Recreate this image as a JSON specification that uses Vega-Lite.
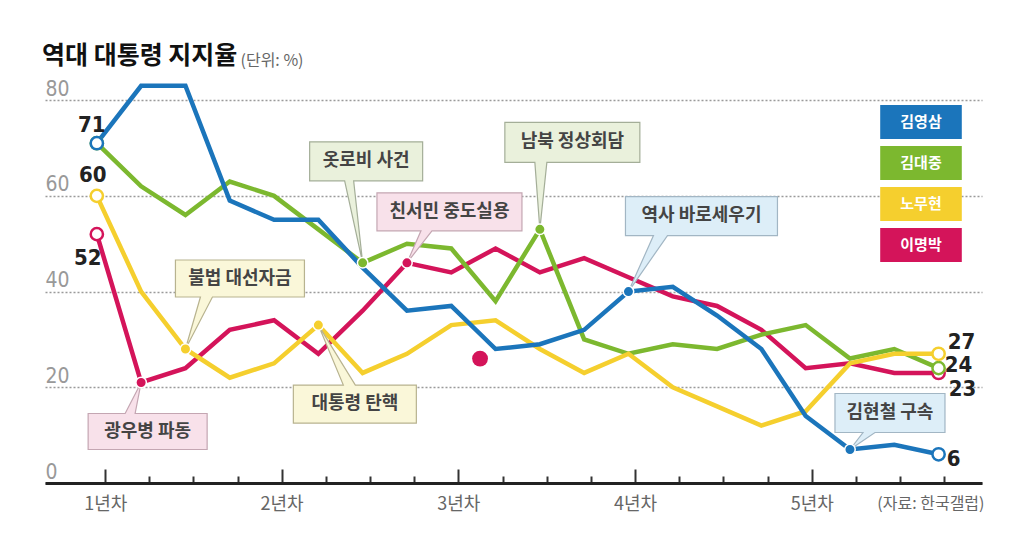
{
  "$schema": "https://vega.github.io/schema/vega-lite/v6.json",
  "width": 937,
  "height": 402,
  "autosize": {"type": "none"},
  "padding": {"left": 45, "top": 81, "right": 46, "bottom": 76},
  "background": "white",
  "config": {"view": {"stroke": null}, "font": "Noto Sans CJK KR"},
  "title": {
    "text": "역대 대통령 지지율",
    "anchor": "start",
    "frame": "group",
    "font": "Noto Sans CJK KR",
    "fontSize": 25,
    "fontWeight": "bold",
    "color": "#111",
    "dx": -3,
    "offset": -17
  },
  "datasets": {
    "approval": [
      {"president": "이명박", "q": 0, "v": 52}, {"president": "이명박", "q": 1, "v": 21},
      {"president": "이명박", "q": 2, "v": 24}, {"president": "이명박", "q": 3, "v": 32},
      {"president": "이명박", "q": 4, "v": 34}, {"president": "이명박", "q": 5, "v": 27},
      {"president": "이명박", "q": 6, "v": 36}, {"president": "이명박", "q": 7, "v": 46},
      {"president": "이명박", "q": 8, "v": 44}, {"president": "이명박", "q": 9, "v": 49},
      {"president": "이명박", "q": 10, "v": 44}, {"president": "이명박", "q": 11, "v": 47},
      {"president": "이명박", "q": 12, "v": 43}, {"president": "이명박", "q": 13, "v": 39},
      {"president": "이명박", "q": 14, "v": 37}, {"president": "이명박", "q": 15, "v": 32},
      {"president": "이명박", "q": 16, "v": 24}, {"president": "이명박", "q": 17, "v": 25},
      {"president": "이명박", "q": 18, "v": 23}, {"president": "이명박", "q": 19, "v": 23},
      {"president": "김대중", "q": 0, "v": 71}, {"president": "김대중", "q": 1, "v": 62},
      {"president": "김대중", "q": 2, "v": 56}, {"president": "김대중", "q": 3, "v": 63},
      {"president": "김대중", "q": 4, "v": 60}, {"president": "김대중", "q": 5, "v": 53},
      {"president": "김대중", "q": 6, "v": 46}, {"president": "김대중", "q": 7, "v": 50},
      {"president": "김대중", "q": 8, "v": 49}, {"president": "김대중", "q": 9, "v": 38},
      {"president": "김대중", "q": 10, "v": 53}, {"president": "김대중", "q": 11, "v": 30},
      {"president": "김대중", "q": 12, "v": 27}, {"president": "김대중", "q": 13, "v": 29},
      {"president": "김대중", "q": 14, "v": 28}, {"president": "김대중", "q": 15, "v": 31},
      {"president": "김대중", "q": 16, "v": 33}, {"president": "김대중", "q": 17, "v": 26},
      {"president": "김대중", "q": 18, "v": 28}, {"president": "김대중", "q": 19, "v": 24},
      {"president": "노무현", "q": 0, "v": 60}, {"president": "노무현", "q": 1, "v": 40},
      {"president": "노무현", "q": 2, "v": 28}, {"president": "노무현", "q": 3, "v": 22},
      {"president": "노무현", "q": 4, "v": 25}, {"president": "노무현", "q": 5, "v": 33},
      {"president": "노무현", "q": 6, "v": 23}, {"president": "노무현", "q": 7, "v": 27},
      {"president": "노무현", "q": 8, "v": 33}, {"president": "노무현", "q": 9, "v": 34},
      {"president": "노무현", "q": 10, "v": 28}, {"president": "노무현", "q": 11, "v": 23},
      {"president": "노무현", "q": 12, "v": 27}, {"president": "노무현", "q": 13, "v": 20},
      {"president": "노무현", "q": 14, "v": 16}, {"president": "노무현", "q": 15, "v": 12},
      {"president": "노무현", "q": 16, "v": 15}, {"president": "노무현", "q": 17, "v": 25},
      {"president": "노무현", "q": 18, "v": 27}, {"president": "노무현", "q": 19, "v": 27},
      {"president": "김영삼", "q": 0, "v": 71}, {"president": "김영삼", "q": 1, "v": 83},
      {"president": "김영삼", "q": 2, "v": 83}, {"president": "김영삼", "q": 3, "v": 59},
      {"president": "김영삼", "q": 4, "v": 55}, {"president": "김영삼", "q": 5, "v": 55},
      {"president": "김영삼", "q": 6, "v": 45}, {"president": "김영삼", "q": 7, "v": 36},
      {"president": "김영삼", "q": 8, "v": 37}, {"president": "김영삼", "q": 9, "v": 28},
      {"president": "김영삼", "q": 10, "v": 29}, {"president": "김영삼", "q": 11, "v": 32},
      {"president": "김영삼", "q": 12, "v": 40}, {"president": "김영삼", "q": 13, "v": 41},
      {"president": "김영삼", "q": 14, "v": 35}, {"president": "김영삼", "q": 15, "v": 28},
      {"president": "김영삼", "q": 16, "v": 14}, {"president": "김영삼", "q": 17, "v": 7},
      {"president": "김영삼", "q": 18, "v": 8}, {"president": "김영삼", "q": 19, "v": 6}
    ],
    "events": [
      {"event": "옷로비 사건", "president": "김대중", "q": 6, "v": 46},
      {"event": "친서민 중도실용", "president": "이명박", "q": 7, "v": 46},
      {"event": "남북 정상회담", "president": "김대중", "q": 10, "v": 53},
      {"event": "역사 바로세우기", "president": "김영삼", "q": 12, "v": 40},
      {"event": "불법 대선자금", "president": "노무현", "q": 2, "v": 28},
      {"event": "대통령 탄핵", "president": "노무현", "q": 5, "v": 33},
      {"event": "광우병 파동", "president": "이명박", "q": 1, "v": 21},
      {"event": "김현철 구속", "president": "김영삼", "q": 17, "v": 7}
    ],
    "extra": [
      {"president": "이명박", "q": 8.65, "v": 26}
    ]
  },
  "encoding": {
    "x": {
      "field": "q",
      "type": "quantitative",
      "scale": {"domain": [-1.17, 19.98], "nice": false, "zero": false},
      "axis": {
        "values": [0.19, 1.18, 2.18, 3.18, 4.17, 5.17, 6.17, 7.17, 8.16, 9.16, 10.16, 11.15, 12.15, 13.15, 14.14, 15.14, 16.14, 17.13, 18.13, 19.13],
        "labelExpr": "indexof([0.19, 4.17, 8.16, 12.15, 16.14], datum.value) >= 0 ? (indexof([0.19, 4.17, 8.16, 12.15, 16.14], datum.value) + 1) + '년차' : ''",
        "grid": false,
        "domainColor": "#222",
        "domainWidth": 3,
        "ticks": true,
        "tickColor": "#333",
        "tickWidth": 2,
        "tickSize": -14,
        "tickDash": {"condition": {"test": "indexof([0.19, 4.17, 8.16, 12.15, 16.14], datum.value) >= 0", "value": [14, 0]}, "value": [7, 20]},
        "labelPadding": 26,
        "labelBaseline": "top",
        "labelFont": "Noto Sans CJK KR",
        "labelFontSize": 18,
        "labelColor": "#666",
        "labelFlush": false,
        "labelOverlap": false,
        "labelBound": false,
        "title": "(자료: 한국갤럽)",
        "titleAnchor": "end",
        "titleAlign": "right",
        "titleX": 939,
        "titleY": 12,
        "titleBaseline": "top",
        "titleFont": "Noto Sans CJK KR",
        "titleFontSize": 16,
        "titleFontWeight": "normal",
        "titleColor": "#666"
      }
    },
    "y": {
      "field": "v",
      "type": "quantitative",
      "scale": {"domain": [0, 84], "nice": false},
      "axis": {
        "values": [0, 20, 40, 60, 80],
        "domain": false,
        "ticks": false,
        "grid": true,
        "gridColor": "#9a9a9a",
        "gridDash": [2, 2],
        "gridWidth": 1.5,
        "labelAlign": "left",
        "labelBaseline": "alphabetic",
        "labelPadding": 0,
        "labelOffset": -5,
        "labelFont": "Liberation Sans Narrow, DejaVu Sans Condensed, sans-serif",
        "labelFontSize": 21,
        "labelColor": "#999",
        "title": "(단위: %)",
        "titleAngle": 0,
        "titleX": 195,
        "titleY": -16,
        "titleAlign": "left",
        "titleBaseline": "alphabetic",
        "titleFont": "Noto Sans CJK KR",
        "titleFontSize": 16,
        "titleFontWeight": "normal",
        "titleColor": "#666"
      }
    }
  },
  "layer": [
    {
      "data": {"name": "approval"},
      "mark": {"type": "line", "strokeWidth": 4.5, "strokeJoin": "miter"},
      "encoding": {
        "color": {
          "field": "president",
          "type": "nominal",
          "scale": {
            "domain": ["김영삼", "김대중", "노무현", "이명박"],
            "range": ["#1b75bb", "#7cb82f", "#f5cf2e", "#d4145a"]
          },
          "legend": {
            "orient": "none",
            "legendX": 859,
            "legendY": 24,
            "title": null,
            "padding": 0,
            "symbolType": "M-2.4,-1H2.4V1H-2.4Z",
            "symbolSize": 1156,
            "symbolStrokeWidth": 0,
            "rowPadding": 7,
            "labelAlign": "center",
            "labelOffset": -17,
            "labelColor": "white",
            "labelFont": "Noto Sans CJK KR",
            "labelFontSize": 15,
            "labelFontWeight": "bold",
            "encode": {
              "symbols": {
                "update": {
                  "fill": {"scale": "color", "field": "value"},
                  "stroke": {"value": "transparent"},
                  "opacity": {"value": 1}
                }
              }
            }
          }
        }
      }
    },
    {
      "data": {"name": "events"},
      "transform": [{"filter": "datum.event == '옷로비 사건'"}],
      "layer": [
        {"mark": {"type": "point", "shape": "M-53,-121H60V-82H-9L0,0L-18,-82H-53Z", "size": 4, "filled": true, "opacity": 1, "fill": "#eaf1dc", "stroke": "#a4ae98", "strokeWidth": 1.2}},
        {"mark": {"type": "text", "dx": 3.5, "dy": -101.5, "fontSize": 18, "fontWeight": "bold", "color": "#444"}, "encoding": {"text": {"field": "event"}}}
      ]
    },
    {
      "data": {"name": "events"},
      "transform": [{"filter": "datum.event == '친서민 중도실용'"}],
      "layer": [
        {"mark": {"type": "point", "shape": "M-30,-70H115V-32H25L0,0L14,-32H-30Z", "size": 4, "filled": true, "opacity": 1, "fill": "#f8e1ea", "stroke": "#c4a6b2", "strokeWidth": 1.2}},
        {"mark": {"type": "text", "dx": 42.5, "dy": -51, "fontSize": 18, "fontWeight": "bold", "color": "#444"}, "encoding": {"text": {"field": "event"}}}
      ]
    },
    {
      "data": {"name": "events"},
      "transform": [{"filter": "datum.event == '남북 정상회담'"}],
      "layer": [
        {"mark": {"type": "point", "shape": "M-35,-107H100V-67H7L0,0L-5,-67H-35Z", "size": 4, "filled": true, "opacity": 1, "fill": "#eaf1dc", "stroke": "#a4ae98", "strokeWidth": 1.2}},
        {"mark": {"type": "text", "dx": 32.5, "dy": -87, "fontSize": 18, "fontWeight": "bold", "color": "#444"}, "encoding": {"text": {"field": "event"}}}
      ]
    },
    {
      "data": {"name": "events"},
      "transform": [{"filter": "datum.event == '역사 바로세우기'"}],
      "layer": [
        {"mark": {"type": "point", "shape": "M-3,-95H149V-56H39L0,0L25,-56H-3Z", "size": 4, "filled": true, "opacity": 1, "fill": "#ddeef8", "stroke": "#a2b6c4", "strokeWidth": 1.2}},
        {"mark": {"type": "text", "dx": 73, "dy": -75.5, "fontSize": 18, "fontWeight": "bold", "color": "#444"}, "encoding": {"text": {"field": "event"}}}
      ]
    },
    {
      "data": {"name": "events"},
      "transform": [{"filter": "datum.event == '불법 대선자금'"}],
      "layer": [
        {"mark": {"type": "point", "shape": "M-10,-89H119V-52H27L0,0L15,-52H-10Z", "size": 4, "filled": true, "opacity": 1, "fill": "#faf7d9", "stroke": "#b8b38f", "strokeWidth": 1.2}},
        {"mark": {"type": "text", "dx": 54.5, "dy": -70.5, "fontSize": 18, "fontWeight": "bold", "color": "#444"}, "encoding": {"text": {"field": "event"}}}
      ]
    },
    {
      "data": {"name": "events"},
      "transform": [{"filter": "datum.event == '대통령 탄핵'"}],
      "layer": [
        {"mark": {"type": "point", "shape": "M-25,60H25L0,0L37,60H98V98H-25Z", "size": 4, "filled": true, "opacity": 1, "fill": "#faf7d9", "stroke": "#b8b38f", "strokeWidth": 1.2}},
        {"mark": {"type": "text", "dx": 36.5, "dy": 79, "fontSize": 18, "fontWeight": "bold", "color": "#444"}, "encoding": {"text": {"field": "event"}}}
      ]
    },
    {
      "data": {"name": "events"},
      "transform": [{"filter": "datum.event == '광우병 파동'"}],
      "layer": [
        {"mark": {"type": "point", "shape": "M-53,31H-16L0,0L-6,31H66V67H-53Z", "size": 4, "filled": true, "opacity": 1, "fill": "#f8e1ea", "stroke": "#c4a6b2", "strokeWidth": 1.2}},
        {"mark": {"type": "text", "dx": 6.5, "dy": 49, "fontSize": 18, "fontWeight": "bold", "color": "#444"}, "encoding": {"text": {"field": "event"}}}
      ]
    },
    {
      "data": {"name": "events"},
      "transform": [{"filter": "datum.event == '김현철 구속'"}],
      "layer": [
        {"mark": {"type": "point", "shape": "M-15,-56H95V-17H25L0,0L13,-17H-15Z", "size": 4, "filled": true, "opacity": 1, "fill": "#ddeef8", "stroke": "#a2b6c4", "strokeWidth": 1.2}},
        {"mark": {"type": "text", "dx": 40, "dy": -36.5, "fontSize": 18, "fontWeight": "bold", "color": "#444"}, "encoding": {"text": {"field": "event"}}}
      ]
    },
    {
      "data": {"name": "events"},
      "mark": {"type": "point", "filled": true, "opacity": 1, "size": 110, "stroke": "white", "strokeWidth": 1.5},
      "encoding": {"color": {"field": "president", "type": "nominal"}}
    },
    {
      "data": {"name": "extra"},
      "mark": {"type": "point", "filled": true, "opacity": 1, "size": 250},
      "encoding": {"color": {"field": "president", "type": "nominal"}}
    },
    {
      "data": {"name": "approval"},
      "transform": [{"filter": "datum.q == 0 || datum.q == 19"}],
      "mark": {"type": "point", "filled": false, "fill": "white", "opacity": 1, "size": 150, "strokeWidth": 2.5},
      "encoding": {"color": {"field": "president", "type": "nominal"}}
    },
    {
      "data": {"name": "approval"},
      "transform": [{"filter": "datum.president == '김영삼' && datum.q == 0"}],
      "mark": {"type": "text", "dx": -5, "dy": -18, "font": "Liberation Sans Narrow, DejaVu Sans Condensed, sans-serif", "fontSize": 22, "fontWeight": "bold", "color": "#222"},
      "encoding": {"text": {"field": "v"}}
    },
    {
      "data": {"name": "approval"},
      "transform": [{"filter": "datum.president == '노무현' && datum.q == 0"}],
      "mark": {"type": "text", "dx": -4, "dy": -21, "font": "Liberation Sans Narrow, DejaVu Sans Condensed, sans-serif", "fontSize": 22, "fontWeight": "bold", "color": "#222"},
      "encoding": {"text": {"field": "v"}}
    },
    {
      "data": {"name": "approval"},
      "transform": [{"filter": "datum.president == '이명박' && datum.q == 0"}],
      "mark": {"type": "text", "dx": -9, "dy": 24, "font": "Liberation Sans Narrow, DejaVu Sans Condensed, sans-serif", "fontSize": 22, "fontWeight": "bold", "color": "#222"},
      "encoding": {"text": {"field": "v"}}
    },
    {
      "data": {"name": "approval"},
      "transform": [{"filter": "datum.president == '노무현' && datum.q == 19"}],
      "mark": {"type": "text", "dx": 23, "dy": -12, "font": "Liberation Sans Narrow, DejaVu Sans Condensed, sans-serif", "fontSize": 22, "fontWeight": "bold", "color": "#222"},
      "encoding": {"text": {"field": "v"}}
    },
    {
      "data": {"name": "approval"},
      "transform": [{"filter": "datum.president == '김대중' && datum.q == 19"}],
      "mark": {"type": "text", "dx": 20, "dy": -3, "font": "Liberation Sans Narrow, DejaVu Sans Condensed, sans-serif", "fontSize": 22, "fontWeight": "bold", "color": "#222"},
      "encoding": {"text": {"field": "v"}}
    },
    {
      "data": {"name": "approval"},
      "transform": [{"filter": "datum.president == '이명박' && datum.q == 19"}],
      "mark": {"type": "text", "dx": 24, "dy": 16, "font": "Liberation Sans Narrow, DejaVu Sans Condensed, sans-serif", "fontSize": 22, "fontWeight": "bold", "color": "#222"},
      "encoding": {"text": {"field": "v"}}
    },
    {
      "data": {"name": "approval"},
      "transform": [{"filter": "datum.president == '김영삼' && datum.q == 19"}],
      "mark": {"type": "text", "dx": 15, "dy": 5, "font": "Liberation Sans Narrow, DejaVu Sans Condensed, sans-serif", "fontSize": 22, "fontWeight": "bold", "color": "#222"},
      "encoding": {"text": {"field": "v"}}
    }
  ]
}
